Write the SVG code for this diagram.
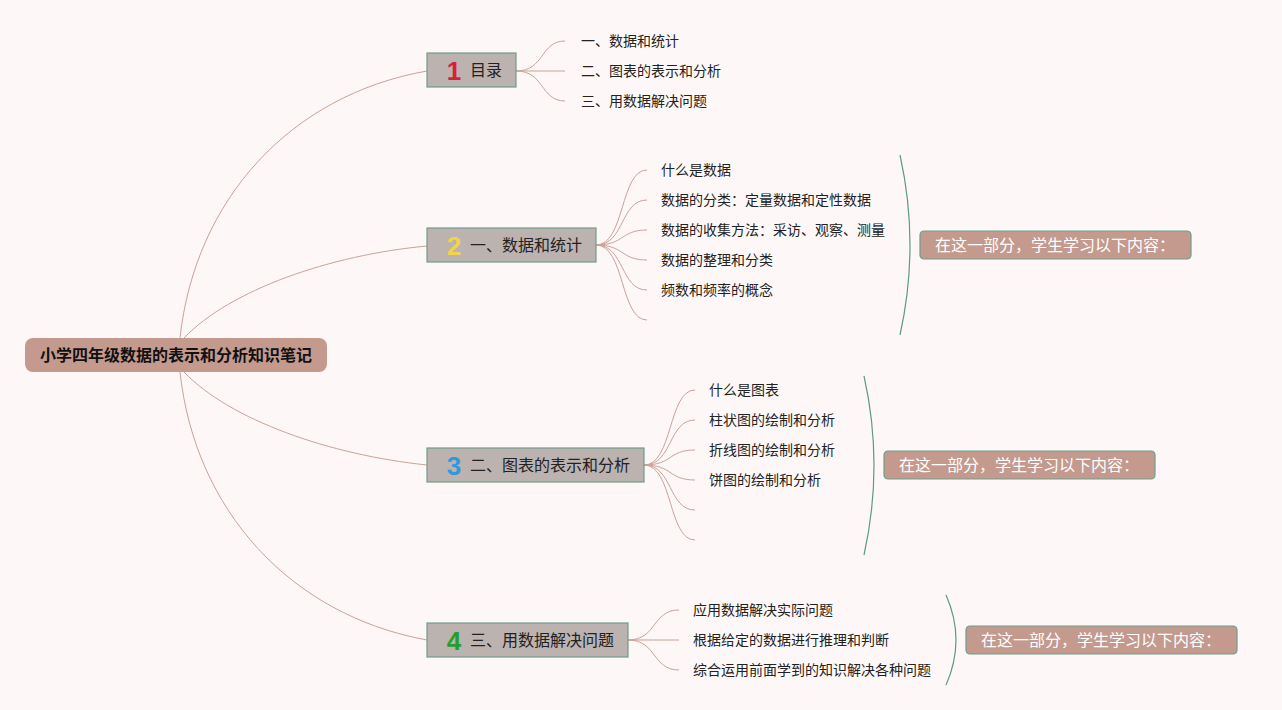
<svg xmlns="http://www.w3.org/2000/svg" width="1282" height="710" viewBox="0 0 1282 710">
<style>
.bg{fill:#fdf8f7}
.root{fill:#c49a8f}
.roott{font-family:"Noto Sans CJK SC","Noto Sans",sans-serif;font-size:16px;font-weight:bold;fill:#111}
.br{fill:#bcb2b0;stroke:#6f9d89;stroke-width:1.2}
.brt{font-family:"Noto Sans CJK SC","Noto Sans",sans-serif;font-size:16px;fill:#222}
.num{font-family:"Liberation Sans","DejaVu Sans",sans-serif;font-size:26px;font-weight:bold}
.leaf{font-family:"Noto Sans CJK SC","Noto Sans",sans-serif;font-size:14px;fill:#222}
.sum{fill:#c49a8f;stroke:#6f9d89;stroke-width:1.2}
.sumt{font-family:"Noto Sans CJK SC","Noto Sans",sans-serif;font-size:16px;fill:#fff}
.c{fill:none;stroke:#c9a29a;stroke-width:1}
.bk{fill:none;stroke:#5f9a82;stroke-width:1.2}
</style>
<rect class="bg" x="0" y="0" width="1282" height="710"/>
<g id="connectors">
<path class="c" d="M180,338 C195,200 290,95 427,71"/>
<path class="c" d="M184,338 C230,290 330,255 427,246"/>
<path class="c" d="M184,372 C230,420 330,455 427,465"/>
<path class="c" d="M180,372 C195,510 290,615 427,640"/>
<path class="c" d="M516,71 C545,71 540,41 565,41"/>
<path class="c" d="M516,71 L565,71"/>
<path class="c" d="M516,71 C545,71 540,101 565,101"/>
<path class="c" d="M596,245 C625,245 620,170 647,170"/>
<path class="c" d="M596,245 C625,245 620,200 647,200"/>
<path class="c" d="M596,245 C625,245 620,230 647,230"/>
<path class="c" d="M596,245 C625,245 620,260 647,260"/>
<path class="c" d="M596,245 C625,245 620,290 647,290"/>
<path class="c" d="M596,245 C625,245 620,320 647,320"/>
<path class="c" d="M644,465 C673,465 668,390 695,390"/>
<path class="c" d="M644,465 C673,465 668,420 695,420"/>
<path class="c" d="M644,465 C673,465 668,450 695,450"/>
<path class="c" d="M644,465 C673,465 668,480 695,480"/>
<path class="c" d="M644,465 C673,465 668,510 695,510"/>
<path class="c" d="M644,465 C673,465 668,540 695,540"/>
<path class="c" d="M628,640 C657,640 652,610 679,610"/>
<path class="c" d="M628,640 L679,640"/>
<path class="c" d="M628,640 C657,640 652,670 679,670"/>
<path class="bk" d="M900,155 Q920,245 900,335"/>
<path class="bk" d="M864,376 Q884,465 864,555"/>
<path class="bk" d="M946,595 Q966,640 946,685"/>
</g>
<g id="root">
<rect class="root" x="25" y="338" width="302" height="34" rx="8"/>
<text class="roott" x="176" y="361" text-anchor="middle">小学四年级数据的表示和分析知识笔记</text>
</g>
<g id="node1">
<rect class="br" x="427" y="53" width="89" height="34"/>
<text class="num" x="454" y="80" text-anchor="middle" fill="#d81f36">1</text>
<text class="brt" x="470" y="76">目录</text>
</g>
<g id="node2">
<rect class="br" x="427" y="228" width="169" height="34"/>
<text class="num" x="454" y="255" text-anchor="middle" fill="#f0d44a">2</text>
<text class="brt" x="470" y="251">一、数据和统计</text>
</g>
<g id="node3">
<rect class="br" x="427" y="448" width="217" height="34"/>
<text class="num" x="454" y="475" text-anchor="middle" fill="#2e9ad8">3</text>
<text class="brt" x="470" y="471">二、图表的表示和分析</text>
</g>
<g id="node4">
<rect class="br" x="427" y="623" width="201" height="34"/>
<text class="num" x="454" y="650" text-anchor="middle" fill="#22a02a">4</text>
<text class="brt" x="470" y="646">三、用数据解决问题</text>
</g>
<g id="leaves1">
<text class="leaf" x="581" y="46">一、数据和统计</text>
<text class="leaf" x="581" y="76">二、图表的表示和分析</text>
<text class="leaf" x="581" y="106">三、用数据解决问题</text>
</g>
<g id="leaves2">
<text class="leaf" x="661" y="175">什么是数据</text>
<text class="leaf" x="661" y="205">数据的分类：定量数据和定性数据</text>
<text class="leaf" x="661" y="235">数据的收集方法：采访、观察、测量</text>
<text class="leaf" x="661" y="265">数据的整理和分类</text>
<text class="leaf" x="661" y="295">频数和频率的概念</text>
</g>
<g id="leaves3">
<text class="leaf" x="709" y="395">什么是图表</text>
<text class="leaf" x="709" y="425">柱状图的绘制和分析</text>
<text class="leaf" x="709" y="455">折线图的绘制和分析</text>
<text class="leaf" x="709" y="485">饼图的绘制和分析</text>
</g>
<g id="leaves4">
<text class="leaf" x="693" y="615">应用数据解决实际问题</text>
<text class="leaf" x="693" y="645">根据给定的数据进行推理和判断</text>
<text class="leaf" x="693" y="675">综合运用前面学到的知识解决各种问题</text>
</g>
<g id="summary1">
<rect class="sum" x="920" y="231" width="271" height="28" rx="4"/>
<text class="sumt" x="935" y="251">在这一部分，学生学习以下内容：</text>
</g>
<g id="summary2">
<rect class="sum" x="884" y="451" width="271" height="28" rx="4"/>
<text class="sumt" x="899" y="471">在这一部分，学生学习以下内容：</text>
</g>
<g id="summary3">
<rect class="sum" x="966" y="626" width="271" height="28" rx="4"/>
<text class="sumt" x="981" y="646">在这一部分，学生学习以下内容：</text>
</g>
</svg>
